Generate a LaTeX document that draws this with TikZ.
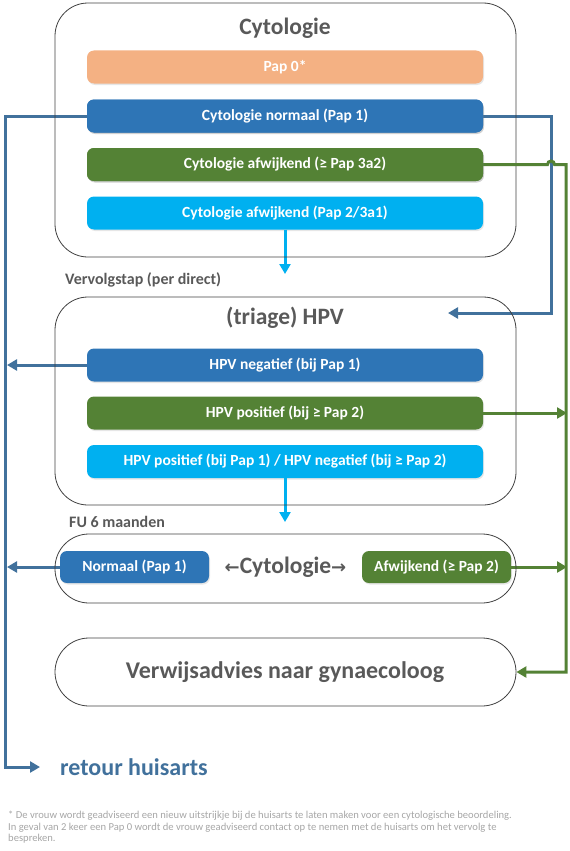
\documentclass[tikz,border=0pt]{standalone}
\usepackage{fontspec}
\setmainfont{Carlito}
\newfontfamily\dejavu{DejaVu Sans}
\usetikzlibrary{arrows.meta,shadows}
\definecolor{cOrange}{HTML}{F4B183}
\definecolor{cBlue}{HTML}{2E75B6}
\definecolor{cGreen}{HTML}{548235}
\definecolor{cCyan}{HTML}{00B0F0}
\definecolor{cLineBlue}{HTML}{41719C}
\definecolor{cGray}{HTML}{595959}
\definecolor{cFoot}{HTML}{A6A6A6}
\definecolor{cFrame}{HTML}{404040}
\tikzset{
  bar/.style={minimum width=396pt, minimum height=33pt, rounded corners=7pt,
    text=white, font=\fontsize{15.5}{18}\selectfont\bfseries, inner sep=0pt,
    drop shadow={opacity=0.2, shadow xshift=1pt, shadow yshift=-1.5pt}},
  smallbar/.style={bar, minimum width=149pt, minimum height=32pt},
  frame/.style={draw=cFrame, line width=0.8pt, inner sep=0pt},
  conn/.style={line width=3pt, -{Triangle[length=10pt,width=11pt]}},
  title/.style={text=cGray, font=\fontsize{23.5}{28}\selectfont\bfseries},
  steplabel/.style={text=cGray, font=\fontsize{16}{19}\selectfont\bfseries, anchor=west, inner sep=0pt},
}
\begin{document}
\begin{tikzpicture}[x=1pt,y=-1pt]
\useasboundingbox (0,0) rectangle (570,851);
% coordinates
\coordinate (bl) at (5,767);
\coordinate (retA) at (40,767);
\coordinate (br) at (551,313);
\coordinate (hpvin) at (448,313);
\coordinate (hop1) at (547.5,164.5);
\coordinate (hop2) at (554.5,164.5);
\coordinate (gr) at (566,672);
\coordinate (c1) at (285,274);
\coordinate (c2) at (285,522);
\coordinate (b3) at (7,365);
\coordinate (b4) at (7,567);
\coordinate (g2) at (567,413);
\coordinate (g3) at (567,567);
% bars
\node[bar, fill=cOrange] (pap0) at (285,67) {Pap 0*};
\node[bar, fill=cBlue] (nrm) at (285,116) {Cytologie normaal (Pap 1)};
\node[bar, fill=cGreen] (afw) at (285,164.5) {Cytologie afwijkend (≥ Pap 3a2)};
\node[bar, fill=cCyan] (pap2) at (285,213) {Cytologie afwijkend (Pap 2/3a1)};
\node[bar, fill=cBlue] (hneg) at (285,365) {HPV negatief (bij Pap 1)};
\node[bar, fill=cGreen] (hpos) at (285,413) {HPV positief (bij ≥ Pap 2)};
\node[bar, fill=cCyan] (hmix) at (285,461.5) {HPV positief (bij Pap 1) / HPV negatief (bij ≥ Pap 2)};
\node[smallbar, fill=cBlue] (nor) at (134.5,567) {Normaal (Pap 1)};
\node[smallbar, fill=cGreen] (afw2) at (436.5,567) {Afwijkend (≥ Pap 2)};
% connectors
\draw[conn, cLineBlue] (nrm.west) -| (bl) -- (retA);
\draw[conn, cLineBlue] (nrm.east) -| (br) -- (hpvin);
\draw[conn, cCyan] (pap2.south) -- (c1);
\draw[conn, cLineBlue] (hneg.west) -- (b3);
\draw[conn, cGreen] (hpos.east) -- (g2);
\draw[conn, cCyan] (hmix.south) -- (c2);
\draw[conn, cLineBlue] (nor.west) -- (b4);
\draw[conn, cGreen] (afw2.east) -- (g3);
% outer frames
\node[frame, rounded corners=33pt, minimum width=461pt, minimum height=254pt] (cytobox) at (285.5,130) {};
\node[frame, rounded corners=33pt, minimum width=461pt, minimum height=208pt] (hpvbox) at (285.5,401) {};
\node[frame, rounded corners=34pt, minimum width=461pt, minimum height=69pt] (fubox) at (285.5,568.5) {};
\node[frame, rounded corners=34pt, minimum width=461pt, minimum height=68pt] (vw) at (285.5,672) {};
\draw[conn, cGreen] (afw.east) -- (hop1) arc[start angle=180, end angle=0, radius=3.5pt] -- (hop2) -| (gr) -- (vw.east);
% redraw bars on top
\node[bar, fill=cBlue] at (nrm) {Cytologie normaal (Pap 1)};
\node[bar, fill=cGreen] at (afw) {Cytologie afwijkend (≥ Pap 3a2)};
% titles
\node[title] (t1) at (285,28) {Cytologie};
\node[title] (t2) at (285,318) {(triage) HPV};
\node[text=cGray, font=\fontsize{24}{28}\selectfont\bfseries] (vwt) at (285,672) {Verwijsadvies naar gynaecoloog};
\node[steplabel] (vs) at (65,280) {Vervolgstap (per direct)};
\node[steplabel] (fu) at (69,522) {FU 6 maanden};
\node[text=cGray, font=\fontsize{23.5}{28}\selectfont\bfseries, inner sep=0pt] (cyt) at (285.5,567) {{\dejavu\bfseries\fontsize{18}{22}\selectfont ←}Cytologie{\dejavu\bfseries\fontsize{18}{22}\selectfont →}};
% retour
\node[anchor=west, inner sep=0pt, text=cLineBlue, font=\fontsize{24}{28}\selectfont\bfseries] (ret) at (60,767) {retour huisarts};
% footnote
\node[anchor=north west, inner sep=0pt, text=cFoot, align=left, font=\fontsize{10.6}{11.3}\selectfont] (foot) at (8,811)
{* De vrouw wordt geadviseerd een nieuw uitstrijkje bij de huisarts te laten maken voor een cytologische beoordeling.\\
In geval van 2 keer een Pap 0 wordt de vrouw geadviseerd contact op te nemen met de huisarts om het vervolg te\\
bespreken.};
\end{tikzpicture}
\end{document}
